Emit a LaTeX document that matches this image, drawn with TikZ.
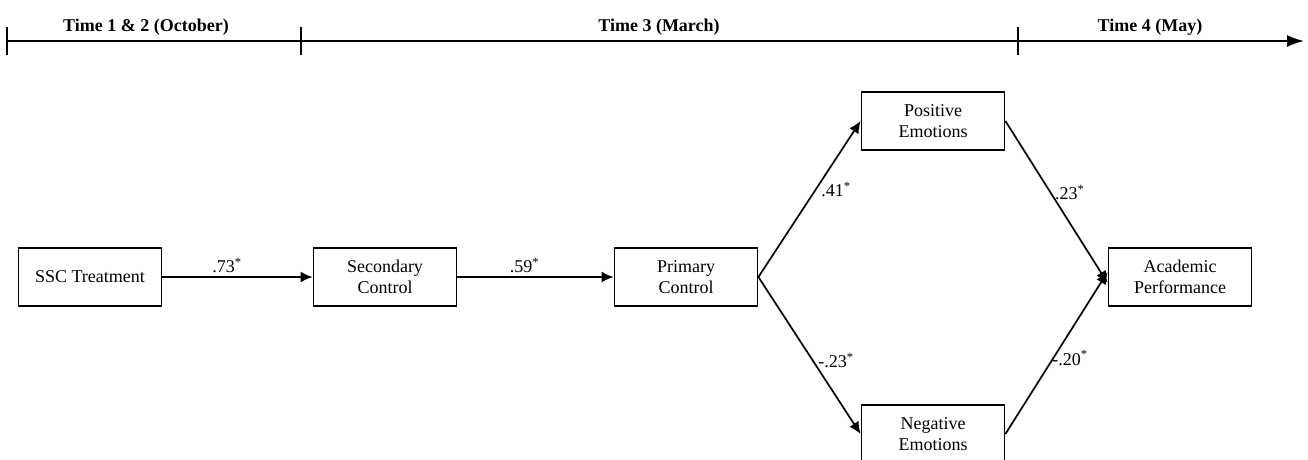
\documentclass[tikz,border=0pt]{standalone}
\usepackage{fontspec}
\setmainfont{Liberation Serif}
\usetikzlibrary{arrows.meta}
\begin{document}
\begin{tikzpicture}[
    x=1pt, y=-1pt,
    var/.style={rectangle, draw, line width=1.8pt, minimum width=143pt, minimum height=58pt, inner sep=0pt, align=center, font=\fontsize{18}{21}\selectfont},
    period/.style={anchor=base, font=\fontsize{18}{20}\selectfont\bfseries},
    coef/.style={font=\fontsize{18}{20}\selectfont, inner sep=1pt},
    path/.style={-{Latex[length=12pt, width=11pt]}, line width=1.7pt},
    timeline/.style={-{Latex[length=17pt, width=12pt]}, line width=1.7pt},
    tick/.style={line width=1.7pt}
]
\useasboundingbox (0,0) rectangle (1308,459);
% Time line
\coordinate (t0) at (7,41);
\coordinate (t1) at (301,41);
\coordinate (t2) at (1018,41);
\coordinate (tend) at (1304,41);
\draw[timeline] (t0) -- (tend);
\foreach \t in {t0,t1,t2}
  \draw[tick] (\t) ++(0,-14) -- ++(0,28);
\node[period] (w1) at (146,31) {Time 1 \& 2 (October)};
\node[period] (w3) at (659,31) {Time 3 (March)};
\node[period] (w4) at (1150,31) {Time 4 (May)};
% Variables
\node[var] (ssc) at (90,277) {SSC Treatment};
\node[var] (sec) at (385,277) {Secondary\\Control};
\node[var] (prim) at (686,277) {Primary\\Control};
\node[var] (pos) at (933,121) {Positive\\Emotions};
\node[var] (neg) at (933,434) {Negative\\Emotions};
\node[var] (perf) at (1180,277) {Academic\\Performance};
% Paths
\draw[path] (ssc) -- node[coef, above, pos=0.43, yshift=2pt] (c1) {.73\textsuperscript{*}} (sec);
\draw[path] (sec) -- node[coef, above, pos=0.43, yshift=2pt] (c2) {.59\textsuperscript{*}} (prim);
\draw[path] (prim.east) -- node[coef, anchor=west, pos=0.56, xshift=4pt] (c3) {.41\textsuperscript{*}} (pos.west);
\draw[path] (prim.east) -- node[coef, anchor=west, pos=0.53, xshift=4pt] (c4) {-.23\textsuperscript{*}} (neg.west);
\draw[path] (pos.east) -- node[coef, anchor=west, pos=0.44, xshift=3pt] (c5) {.23\textsuperscript{*}} ([yshift=-6pt]perf.west);
\draw[path] (neg.east) -- node[coef, anchor=west, pos=0.47, xshift=-3pt] (c6) {-.20\textsuperscript{*}} ([yshift=5pt]perf.west);
\end{tikzpicture}
\end{document}
